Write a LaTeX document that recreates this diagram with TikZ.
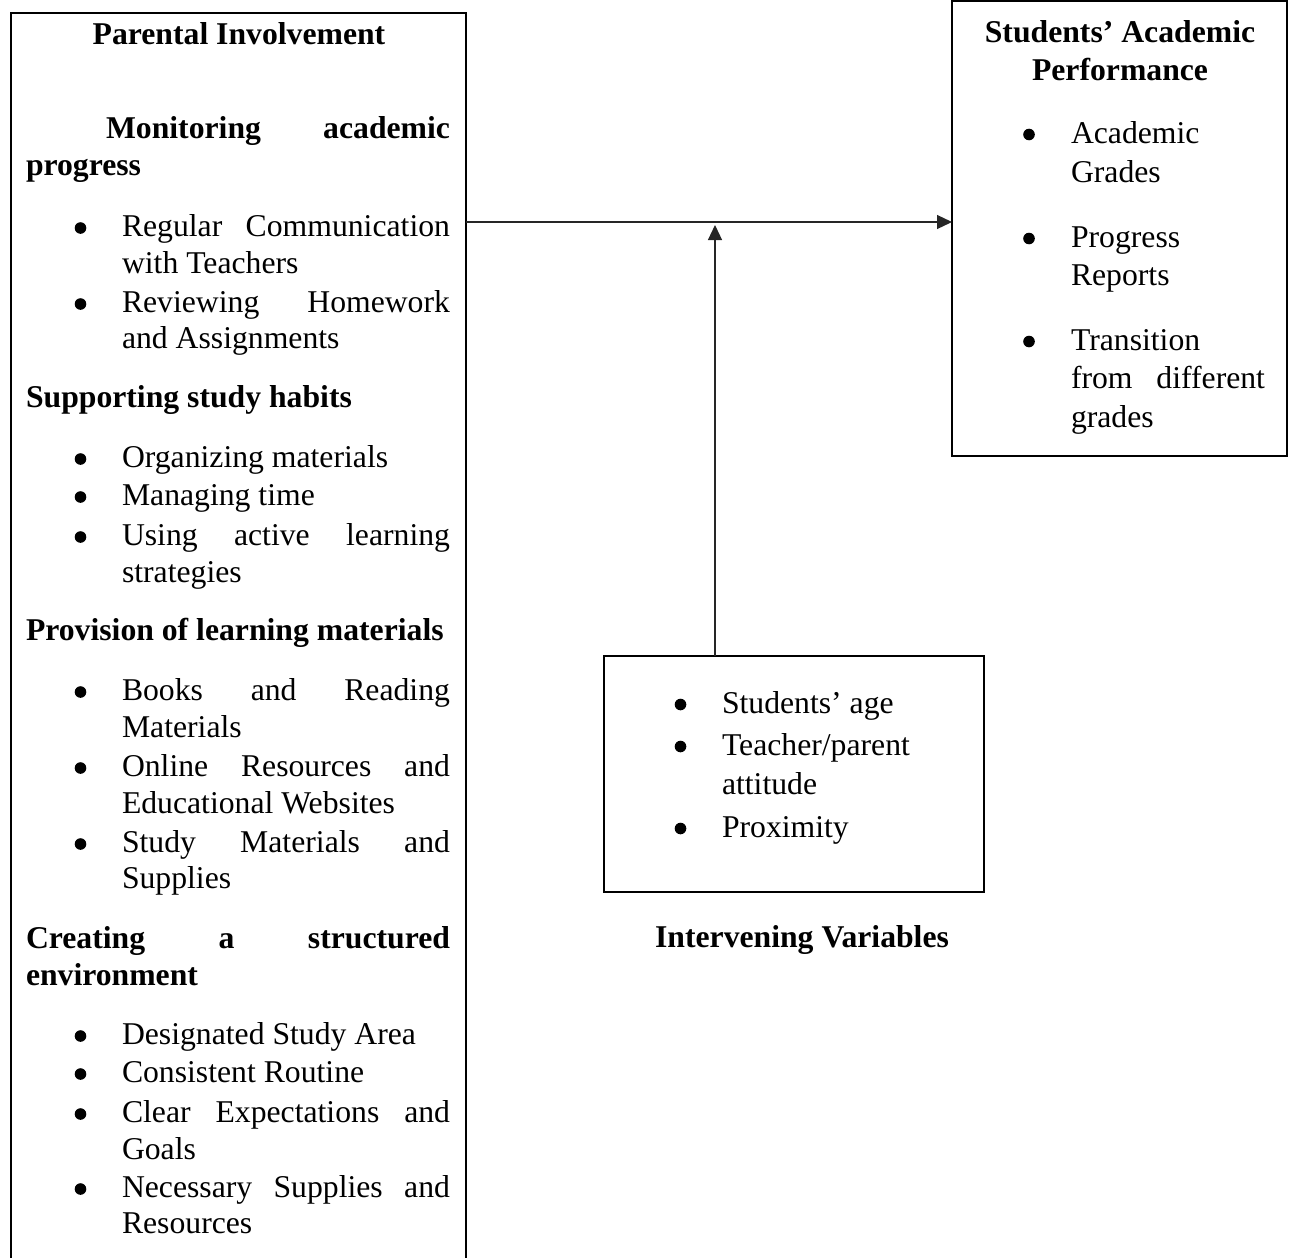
\documentclass[tikz,border=0pt]{standalone}
\usepackage{fontspec}
\setmainfont{Liberation Serif}
\usetikzlibrary{arrows.meta}
\tikzset{
  box/.style={draw=black, line width=2pt, rectangle, inner sep=0pt, outer sep=0pt},
  txt/.style={anchor=base west, inner sep=0pt, outer sep=0pt, font=\fontsize{31.7pt}{36.8pt}\selectfont},
  btxt/.style={txt, font=\fontsize{31.7pt}{36.8pt}\selectfont\bfseries},
  ctxt/.style={btxt, anchor=base},
  arr/.style={draw=black!85, line width=1.2pt, -{Triangle[length=15pt,width=14pt]}},
  dot/.style={fill=black}
}
\newcommand{\spreadline}[2]{\makebox[#1pt][s]{#2}}
\begin{document}
\begin{tikzpicture}[x=1pt,y=-1pt]
\useasboundingbox (0,0) rectangle (1293,1258);
\path[clip] (0,0) rectangle (1293,1258);

% boxes
\node[box, minimum width=455pt, minimum height=1262pt] (pi) at (238.5,644) {};
\node[box, minimum width=335pt, minimum height=455pt] (perf) at (1119.5,228.5) {};
\node[box, minimum width=380pt, minimum height=236pt] (iv) at (794,774) {};

% connectors
\coordinate (ay) at (0,222);
\coordinate (vt) at (715,225);
\draw[arr] (pi.east |- ay) -- (perf.west |- ay);
\draw[arr] (iv.north -| vt) -- (vt);

% left box texts
\node[ctxt] (t1) at (239,44) {Parental Involvement};
\node[btxt] (t2) at (106,138) {\spreadline{344}{Monitoring academic}};
\node[btxt] (t3) at (26,175) {progress};
\node[txt] (t4) at (122,236) {\spreadline{328}{Regular Communication}};
\node[txt] (t5) at (122,273) {with Teachers};
\node[txt] (t6) at (122,312) {\spreadline{328}{Reviewing Homework}};
\node[txt] (t7) at (122,348) {and Assignments};
\node[btxt] (t8) at (26,407) {Supporting study habits};
\node[txt] (t9) at (122,467) {Organizing materials};
\node[txt] (t10) at (122,505) {Managing time};
\node[txt] (t11) at (122,545) {\spreadline{328}{Using active learning}};
\node[txt] (t12) at (122,582) {strategies};
\node[btxt] (t13) at (26,640) {Provision of learning materials};
\node[txt] (t14) at (122,700) {\spreadline{328}{Books and Reading}};
\node[txt] (t15) at (122,737) {Materials};
\node[txt] (t16) at (122,776) {\spreadline{328}{Online Resources and}};
\node[txt] (t17) at (122,813) {Educational Websites};
\node[txt] (t18) at (122,852) {\spreadline{328}{Study Materials and}};
\node[txt] (t19) at (122,888) {Supplies};
\node[btxt] (t20) at (26,948) {\spreadline{424}{Creating a structured}};
\node[btxt] (t21) at (26,985) {environment};
\node[txt] (t22) at (122,1044) {Designated Study Area};
\node[txt] (t23) at (122,1082) {Consistent Routine};
\node[txt] (t24) at (122,1122) {\spreadline{328}{Clear Expectations and}};
\node[txt] (t25) at (122,1159) {Goals};
\node[txt] (t26) at (122,1197) {\spreadline{328}{Necessary Supplies and}};
\node[txt] (t27) at (122,1233) {Resources};
\foreach \yy in {236,312,467,505,545,700,776,852,1044,1082,1122,1197}
  \fill[dot] (80.5,\yy-8) circle (5.8pt);

% right box texts
\node[ctxt] (r1) at (1120,42) {Students’ Academic};
\node[ctxt] (r2) at (1120,80) {Performance};
\node[txt] (r3) at (1071,143) {Academic};
\node[txt] (r4) at (1071,182) {Grades};
\node[txt] (r5) at (1071,247) {Progress};
\node[txt] (r6) at (1071,285) {Reports};
\node[txt] (r7) at (1071,350) {Transition};
\node[txt] (r8) at (1071,388) {\spreadline{194}{from different}};
\node[txt] (r9) at (1071,427) {grades};
\foreach \yy in {143,247,350}
  \fill[dot] (1029,\yy-8.5) circle (5.8pt);

% middle box texts
\node[txt] (m1) at (722,713) {Students’ age};
\node[txt] (m2) at (722,755) {Teacher/parent};
\node[txt] (m3) at (722,794) {attitude};
\node[txt] (m4) at (722,837) {Proximity};
\foreach \yy in {713,755,837}
  \fill[dot] (680.5,\yy-8.5) circle (5.8pt);
\node[ctxt] (m5) at (802,947) {Intervening Variables};
\end{tikzpicture}
\end{document}
